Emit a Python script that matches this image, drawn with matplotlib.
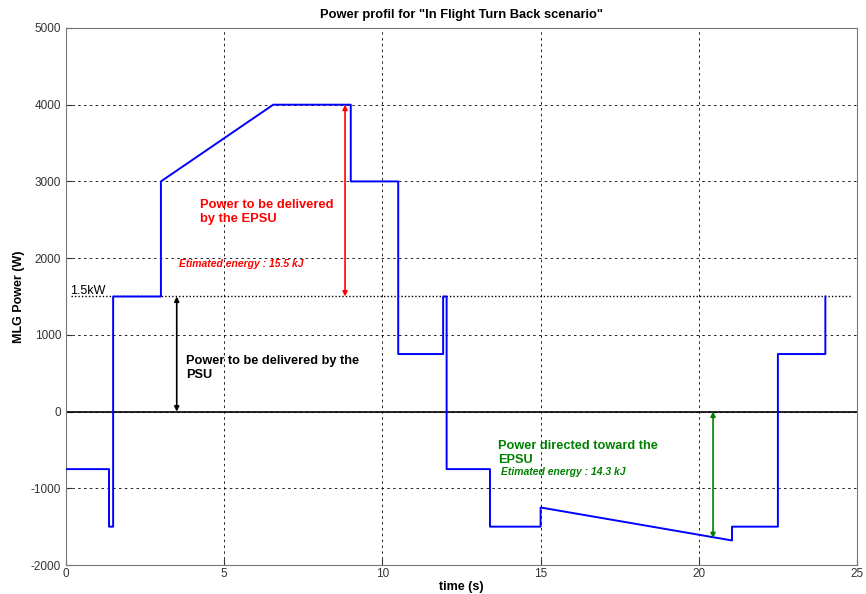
import matplotlib.pyplot as plt

plt.rcParams['font.family'] = ['Liberation Sans', 'DejaVu Sans']
plt.rcParams['axes.unicode_minus'] = False

# MLG power profile (time in s, power in W), listed as corner points
time_s = [0, 1.36, 1.36, 1.49, 1.49, 3.0, 3.0, 6.55, 9.0, 9.0, 10.5, 10.5,
          11.92, 11.92, 12.03, 12.03, 13.4, 13.4, 15.0, 15.0, 21.05, 21.05,
          22.5, 22.5, 24.0, 24.0]
power_w = [-750, -750, -1500, -1500, 1500, 1500, 3000, 4000, 4000, 3000, 3000, 750,
           750, 1500, 1500, -750, -750, -1500, -1500, -1250, -1680, -1500,
           -1500, 750, 750, 1500]

psu_limit = 1500
x_ticks = [0, 5, 10, 15, 20, 25]
y_ticks = [-2000, -1000, 0, 1000, 2000, 3000, 4000, 5000]

fig = plt.figure(figsize=(8.66, 5.94), dpi=100)
ax = fig.add_axes([0.0762, 0.0488, 0.9134, 0.9041])

ax.plot(time_s, power_w, color='#0000ff', lw=1.4, zorder=3)
ax.axhline(0, color='black', lw=1.2, zorder=2)
ax.plot([0.15, 24.8], [psu_limit, psu_limit], color='black', lw=1.0,
        linestyle=(0, (1, 1.5)), zorder=2)

ax.set_xlim(0, 25)
ax.set_ylim(-2000, 5000)
ax.set_xticks(x_ticks)
ax.set_yticks(y_ticks)
ax.grid(True, color='black', linestyle=(0, (3, 4)), lw=0.6)
ax.tick_params(direction='in', labelsize=8.5, length=4, colors='#333333')
ax.tick_params(axis='x', pad=2)
for s in ax.spines.values():
    s.set_color('#777777')

ax.set_title('Power profil for "In Flight Turn Back scenario"', fontsize=9.3,
             fontweight='bold', pad=7)
ax.set_xlabel('time (s)', fontsize=9, fontweight='bold', labelpad=1)
ax.set_ylabel('MLG Power (W)', fontsize=9, fontweight='bold', labelpad=4)

# Arrows showing the power split
ax.annotate('', xy=(3.5, 1500), xytext=(3.5, 0),
            arrowprops=dict(arrowstyle='<|-|>', color='black', lw=1.2,
                            mutation_scale=7, shrinkA=0, shrinkB=0))
ax.annotate('', xy=(8.82, 4000), xytext=(8.82, 1500),
            arrowprops=dict(arrowstyle='<|-|>', color='red', lw=1.2,
                            mutation_scale=7, shrinkA=0, shrinkB=0))
ax.annotate('', xy=(20.45, 0), xytext=(20.45, -1650),
            arrowprops=dict(arrowstyle='<|-|>', color='green', lw=1.2,
                            mutation_scale=7, shrinkA=0, shrinkB=0))

ax.text(4.25, 2770, 'Power to be delivered\nby the EPSU', color='red',
        fontsize=9.3, fontweight='bold', va='top', linespacing=1.25)
ax.text(3.57, 1930, 'Etimated energy : 15.5 kJ', color='red', fontsize=7.5,
        fontweight='bold', style='italic', va='center')
ax.text(0.12, 1570, '1.5kW', color='black', fontsize=9, va='center')
ax.text(3.8, 740, 'Power to be delivered by the\nPSU', color='black',
        fontsize=9.2, fontweight='bold', va='top', linespacing=1.25)
ax.text(13.65, -370, 'Power directed toward the\nEPSU', color='green',
        fontsize=9.2, fontweight='bold', va='top', linespacing=1.25)
ax.text(13.75, -790, 'Etimated energy : 14.3 kJ', color='green', fontsize=7.5,
        fontweight='bold', style='italic', va='center')

fig.savefig('out.png', dpi=100)
